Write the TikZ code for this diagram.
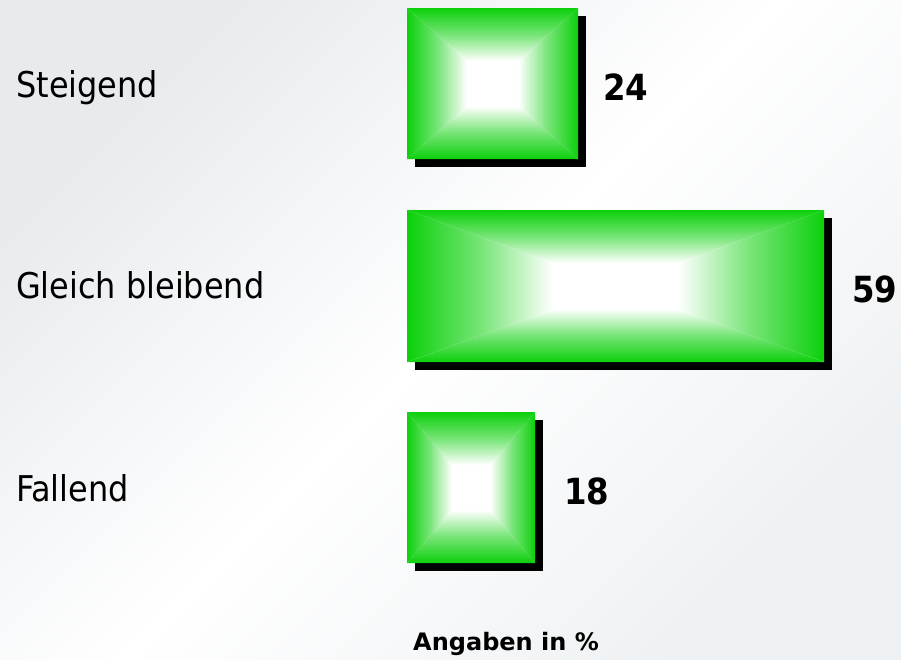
\documentclass[tikz,border=0pt]{standalone}
\usepackage{fontspec}
\setmainfont{DejaVu Sans Condensed}
\newfontfamily\unitfont{DejaVu Sans}
\definecolor{bargreen}{RGB}{12,208,12}
\definecolor{bggray}{RGB}{231,235,238}
% the path covers 25bp..75bp of a shading
\pgfdeclareverticalshading{barN}{100bp}{color(0bp)=(white); color(25bp)=(white); color(40bp)=(white); color(57bp)=(bargreen!55); color(75bp)=(bargreen); color(100bp)=(bargreen)}
\pgfdeclareverticalshading{barS}{100bp}{color(0bp)=(bargreen); color(25bp)=(bargreen); color(43bp)=(bargreen!55); color(60bp)=(white); color(75bp)=(white); color(100bp)=(white)}
\pgfdeclarehorizontalshading{barE}{100bp}{color(0bp)=(white); color(25bp)=(white); color(40bp)=(white); color(57bp)=(bargreen!55); color(75bp)=(bargreen); color(100bp)=(bargreen)}
\pgfdeclarehorizontalshading{barW}{100bp}{color(0bp)=(bargreen); color(25bp)=(bargreen); color(43bp)=(bargreen!55); color(60bp)=(white); color(75bp)=(white); color(100bp)=(white)}
% bar with shadow: x1 y1 x2 y2
\newcommand{\gradbar}[4]{%
  \fill[black] (#1+8,#2+8) rectangle (#3+8,#4+8);
  \fill[white] (#1,#2) rectangle (#3,#4);
  \coordinate (mid) at ({(#1+#3)/2},{(#2+#4)/2});
  \shade[shading=barN] (#1,#2) -- (#3,#2) -- (mid) -- cycle;
  \shade[shading=barS] (#1,#4) -- (#3,#4) -- (mid) -- cycle;
  \shade[shading=barW] (#1,#2) -- (#1,#4) -- (mid) -- cycle;
  \shade[shading=barE] (#3,#2) -- (#3,#4) -- (mid) -- cycle;
}
\begin{document}
\begin{tikzpicture}[x=1pt,y=-1pt]
		\tikzset{lbl/.style={font=\fontsize{35.5}{40}\selectfont,anchor=base west,inner sep=0pt},
		  num/.style={font=\fontsize{36}{40}\selectfont\bfseries,anchor=base west,inner sep=0pt}}
		\useasboundingbox (0,0) rectangle (901,659);
		\shade[top color=bggray,bottom color=bggray!70,middle color=white,shading angle=45] (0,0) rectangle (901,659);
		\gradbar{407}{8}{578}{159}
		\gradbar{407}{210}{824}{362}
		\gradbar{407}{412}{535}{563}
		\node[lbl] (steig) at (16,97) {Steigend};
		\node[lbl] (gleich) at (16,298) {Gleich bleibend};
		\node[lbl] (fall) at (16,501) {Fallend};
		\node[num] (v24) at (603,100) {24};
		\node[num] (v59) at (852,302) {59};
		\node[num] (v18) at (564,504) {18};
		\node[num,font=\unitfont\fontsize{24}{26}\selectfont\bfseries] (unit) at (413,650) {Angaben in \%};
\end{tikzpicture}
\end{document}
